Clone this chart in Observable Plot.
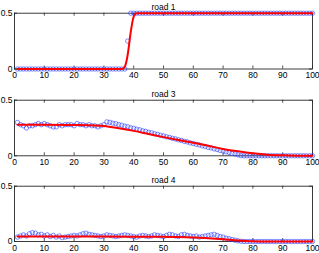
<!DOCTYPE html>
<html><head><meta charset="utf-8">
<script src="https://cdn.jsdelivr.net/npm/d3@7"></script>
<script src="https://cdn.jsdelivr.net/npm/@observablehq/plot@0.6"></script>
<style>
body{margin:0;background:#fff;}
svg{display:block;}
#c{width:319px;}
</style></head>
<body><div id="c"></div>
<script>
const xTicks = [0,10,20,30,40,50,60,70,80,90,100];
const yTicks = [0,0.5];
const titles = ["road 1","road 3","road 4"];

// observed values (blue circles), x = 1..100
const road1Obs = [0,0,0,0,0,0,0,0,0,0, 0,0,0,0,0,0,0,0,0,0, 0,0,0,0,0,0,0,0,0,0, 0,0,0,0,0,0,0,0.25,0.5,0.5,
 0.5,0.5,0.5,0.5,0.5,0.5,0.5,0.5,0.5,0.5, 0.5,0.5,0.5,0.5,0.5,0.5,0.5,0.5,0.5,0.5, 0.5,0.5,0.5,0.5,0.5,0.5,0.5,0.5,0.5,0.5,
 0.5,0.5,0.5,0.5,0.5,0.5,0.5,0.5,0.5,0.5, 0.5,0.5,0.5,0.5,0.5,0.5,0.5,0.5,0.5,0.5, 0.5,0.5,0.5,0.5,0.5,0.5,0.5,0.5,0.5,0.5];
const road3Obs = [0.30,0.28,0.27,0.25,0.27,0.27,0.28,0.29,0.28,0.29, 0.28,0.27,0.26,0.26,0.28,0.27,0.28,0.28,0.28,0.27,
 0.29,0.28,0.28,0.27,0.28,0.27,0.27,0.26,0.27,0.28, 0.305,0.301,0.293,0.289,0.280,0.275,0.266,0.261,0.252,0.247,
 0.239,0.234,0.225,0.220,0.211,0.207,0.198,0.193,0.184,0.179, 0.171,0.166,0.157,0.152,0.143,0.139,0.130,0.125,0.116,0.111,
 0.103,0.098,0.089,0.084,0.075,0.071,0.062,0.057,0.048,0.043, 0.035,0.030,0.021,0.016,0.008,0.002,0,0,0,0,
 0,0,0,0,0,0,0,0,0,0, 0,0,0,0,0,0,0,0,0,0];
const road4Obs = [0.04,0.05,0.06,0.05,0.07,0.08,0.075,0.06,0.065,0.05, 0.06,0.045,0.055,0.04,0.05,0.035,0.04,0.045,0.05,0.055,
 0.05,0.06,0.07,0.075,0.065,0.06,0.055,0.05,0.045,0.05, 0.06,0.055,0.05,0.045,0.05,0.055,0.06,0.055,0.05,0.045,
 0.04,0.05,0.055,0.05,0.045,0.05,0.06,0.055,0.05,0.045, 0.055,0.065,0.06,0.05,0.045,0.06,0.065,0.055,0.05,0.045,
 0.05,0.04,0.045,0.05,0.055,0.06,0.065,0.055,0.045,0.04, 0.03,0.025,0.018,0.012,0.006,0.002,0,0,0,0,
 0,0,0,0,0,0,0,0,0,0, 0,0,0,0,0,0,0,0,0,0];

// fitted curves (red), [x, y]
const road1Fit = [[1,0],[36,0],[37,0.02],[38,0.13],[39,0.33],[40,0.47],[41,0.5],[100,0.5]];
const road3Fit = [[1,0.28],[10,0.279],[20,0.277],[25,0.275],[30,0.268],[35,0.248],[40,0.224],[45,0.196],[50,0.168],[55,0.142],[60,0.118],[65,0.09],[70,0.062],[75,0.04],[80,0.022],[85,0.01],[90,0.004],[95,0.001],[100,0]];
const road4Fit = [[1,0.045],[20,0.045],[40,0.044],[50,0.042],[55,0.04],[60,0.036],[65,0.029],[70,0.02],[75,0.01],[80,0.003],[85,0.001],[100,0]];

const panels = [
  {obs: road1Obs, fit: road1Fit, h: 85, mt: 12.7, mb: 16.5},
  {obs: road3Obs, fit: road3Fit, h: 85, mt: 14.7, mb: 14.7},
  {obs: road4Obs, fit: road4Fit, h: 83, mt: 15.7, mb: 12}
];
const W = 319, ML = 14, MR = 7;
const font = "Liberation Sans, Arial, sans-serif";
const frameColor = "#262626";

panels.forEach((p, i) => {
  const innerH = p.h - p.mt - p.mb;
  const innerW = W - ML - MR;
  const pts = p.obs.map((v, k) => ({x: k + 1, y: v}));
  const fit = p.fit.map(([x, y]) => ({x, y}));
  const chart = Plot.plot({
    width: W, height: p.h,
    marginLeft: ML, marginRight: MR, marginTop: p.mt, marginBottom: p.mb,
    style: {fontFamily: font, fontSize: "8.5px", color: "#000", background: "#fff", overflow: "visible"},
    x: {domain: [0, 100]},
    y: {domain: [0, 0.5]},
    marks: [
      Plot.frame({stroke: frameColor, strokeWidth: 0.9}),
      Plot.tickX(xTicks, {x: d => d, insetTop: innerH - 3, stroke: frameColor, strokeWidth: 0.8}),
      Plot.tickX(xTicks, {x: d => d, insetBottom: innerH - 3, stroke: frameColor, strokeWidth: 0.8}),
      Plot.tickY(yTicks, {y: d => d, insetRight: innerW - 3, stroke: frameColor, strokeWidth: 0.8}),
      Plot.tickY(yTicks, {y: d => d, insetLeft: innerW - 3, stroke: frameColor, strokeWidth: 0.8}),
      Plot.axisX({ticks: xTicks, tickSize: 0, tickPadding: 3, tickFormat: d3.format("d"), label: null, fill: "#000"}),
      Plot.axisY({ticks: yTicks, tickSize: 0, tickPadding: 2, tickFormat: d3.format("~g"), label: null, fill: "#000"}),
      Plot.dot(pts, {x: "x", y: "y", r: 2.2, stroke: "#2a3cff", strokeWidth: 0.6, fill: "none"}),
      Plot.line(fit, {x: "x", y: "y", stroke: "#ff0000", strokeWidth: 2, curve: "monotone-x"}),
      Plot.text([titles[i]], {frameAnchor: "top", dy: -9, text: d => d, fill: "#000", fontSize: 8.5})
    ]
  });
  document.getElementById("c").appendChild(chart);
});
</script>
</body></html>
